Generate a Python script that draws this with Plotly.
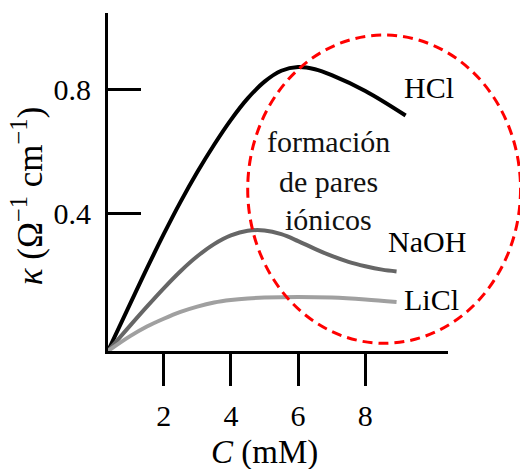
import plotly.graph_objects as go

# ---- data ----
conc_hcl = [0.34, 1.0, 1.5, 2.0, 2.5, 3.0, 3.5, 4.0, 4.5, 5.0, 5.5, 6.0, 6.5, 7.0, 8.0, 9.2]
k_hcl = [-0.042, 0.110, 0.224, 0.334, 0.438, 0.534, 0.622, 0.702, 0.771, 0.825,
         0.860, 0.872, 0.865, 0.846, 0.795, 0.716]

conc_naoh = [0.34, 1.0, 1.5, 2.0, 2.5, 3.0, 3.5, 4.0, 4.5, 5.0, 5.5, 6.0, 6.5, 7.0, 7.5, 8.0, 8.5, 8.93]
k_naoh = [-0.042, 0.040, 0.101, 0.160, 0.215, 0.263, 0.302, 0.330, 0.345, 0.346, 0.334,
          0.312, 0.287, 0.264, 0.245, 0.231, 0.220, 0.214]

conc_licl = [0.34, 1.0, 1.5, 2.0, 2.5, 3.0, 3.5, 4.0, 4.5, 5.0, 6.0, 7.0, 8.0, 8.93]
k_licl = [-0.042, 0.006, 0.037, 0.062, 0.084, 0.101, 0.114, 0.122, 0.127, 0.130,
          0.132, 0.130, 0.124, 0.116]

series_names = ["HCl", "NaOH", "LiCl"]
x_ticks = [2, 4, 6, 8]
y_ticks = [-0.042, 0.4, 0.8]
y_tick_text = ["0", "0.4", "0.8"]

region_lines = ["formación", "de pares", "iónicos"]

# ---- layout geometry ----
XR = [0.342, 10.461]
YR = [-0.0418, 1.0458]
FONT = "Liberation Serif"
FS = 30

def px(v):
    return (v - XR[0]) / (XR[1] - XR[0])

def py(v):
    return (v - YR[0]) / (YR[1] - YR[0])

fig = go.Figure()
for xs, ys, name, col in [
    (conc_hcl, k_hcl, series_names[0], "#000000"),
    (conc_naoh, k_naoh, series_names[1], "#666666"),
    (conc_licl, k_licl, series_names[2], "#a0a0a0"),
]:
    fig.add_trace(go.Scatter(x=xs, y=ys, mode="lines", name=name,
                             line=dict(color=col, width=4, shape="spline", smoothing=1.0),
                             showlegend=False))

# dashed red ellipse (data-space centre and radii, drawn in paper space so it is not clipped)
cx, cy, rx, ry = 8.56, 0.479, 4.06, 0.496
fig.add_shape(type="circle", xref="paper", yref="paper",
              x0=px(cx - rx), x1=px(cx + rx), y0=py(cy - ry), y1=py(cy + ry),
              line=dict(color="#ff0000", width=3, dash="10px,6px"))

# series labels
label_pos = [(9.10, 0.805), (8.63, 0.311), (9.10, 0.124)]
for name, (lx, ly) in zip(series_names, label_pos):
    fig.add_annotation(x=lx, y=ly, text=name, showarrow=False, xanchor="left",
                       yanchor="middle", font=dict(family=FONT, size=FS, color="black"))

# region text
for t, ly in zip(region_lines, [0.632, 0.503, 0.381]):
    fig.add_annotation(x=6.90, y=ly, text=t, showarrow=False, xanchor="center",
                       yanchor="middle", font=dict(family=FONT, size=FS, color="#111111"))

# axis titles
fig.add_annotation(xref="paper", yref="paper", x=-0.238, y=0.458,
                   xanchor="center", yanchor="middle",
                   text="<i>κ</i> (Ω<sup>−1</sup> cm<sup>−1</sup>)", textangle=-90,
                   showarrow=False, font=dict(family=FONT, size=35, color="black"))
fig.add_annotation(xref="paper", yref="paper", x=0.459, y=-0.300,
                   xanchor="center", yanchor="middle",
                   text="<i>C</i> (mM)", showarrow=False,
                   font=dict(family=FONT, size=33, color="black"))

fig.update_layout(
    width=520, height=469,
    margin=dict(l=108, r=72, t=13, b=117.5),
    plot_bgcolor="white", paper_bgcolor="white",
    font=dict(family=FONT, size=FS, color="black"),
    xaxis=dict(range=XR, showgrid=False, zeroline=False, showline=True,
               linecolor="black", linewidth=3, ticks="outside", ticklen=32,
               tickwidth=3, tickcolor="black", tickvals=x_ticks,
               ticklabelstandoff=4, tickfont=dict(family=FONT, size=FS)),
    yaxis=dict(range=YR, showgrid=False, zeroline=False, showline=True,
               linecolor="black", linewidth=3, ticks="inside", ticklen=33,
               tickwidth=3, tickcolor="black", tickvals=y_ticks,
               ticktext=y_tick_text, ticklabelstandoff=8,
               tickfont=dict(family=FONT, size=FS)),
)

fig.write_html("out.html")
